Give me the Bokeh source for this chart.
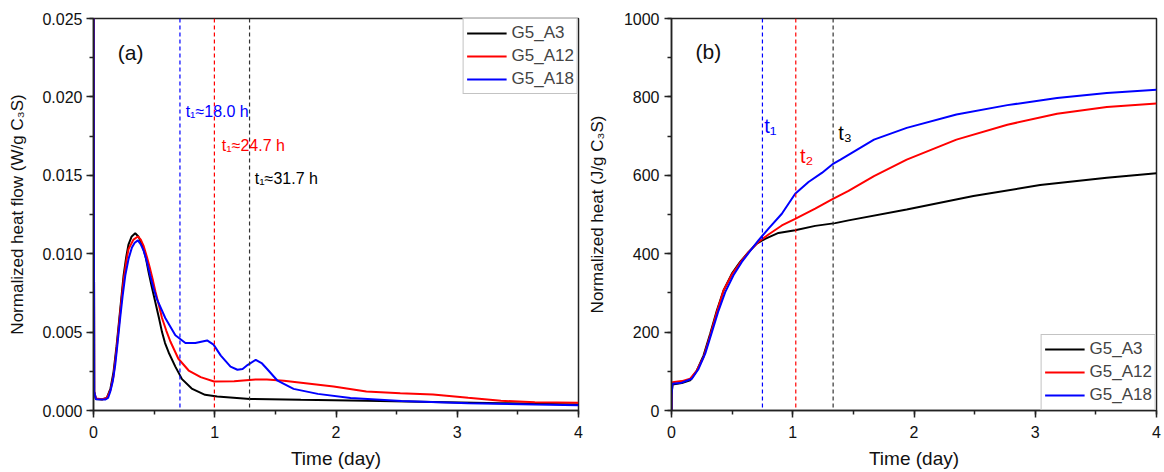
from bokeh.plotting import figure
from bokeh.layouts import row
from bokeh.models import Span, Label, SingleIntervalTicker, NumeralTickFormatter, Range1d, Legend, LegendItem
from bokeh.embed import file_html
from bokeh.resources import INLINE

FONT = "Liberation Sans"
series_names = ["G5_A3", "G5_A12", "G5_A18"]
series_colors = ["#000000", "#ff0000", "#0000ff"]

# ---------------- (a) heat flow, W/g C3S ----------------
a3_t = [0.0, 0.006, 0.02, 0.07, 0.11, 0.14, 0.165, 0.19, 0.207, 0.23, 0.248, 0.27, 0.289, 0.315, 0.344,
        0.37, 0.40, 0.43, 0.455, 0.48, 0.51, 0.54, 0.565, 0.59, 0.62, 0.675, 0.73, 0.81, 0.92, 1.02,
        1.29, 1.71, 2.25, 2.8, 3.36, 4.0]
a3_v = [0.028, 0.0012, 0.00074, 0.0007, 0.0008, 0.0014, 0.00245, 0.0041, 0.0054, 0.0072, 0.0086, 0.0098,
        0.0106, 0.0111, 0.0113, 0.0111, 0.0106, 0.0098, 0.0088, 0.0079, 0.0069, 0.0059, 0.0050, 0.0043,
        0.0037, 0.0028, 0.0020, 0.0014, 0.0010, 0.00089, 0.00074, 0.00068, 0.00062, 0.00055, 0.00047,
        0.00038]

a12_t = [0.0, 0.006, 0.02, 0.07, 0.11, 0.14, 0.165, 0.19, 0.207, 0.23, 0.248, 0.27, 0.289, 0.33, 0.366,
         0.39, 0.413, 0.44, 0.468, 0.49, 0.51, 0.54, 0.565, 0.60, 0.634, 0.70, 0.785, 0.884, 0.994,
         1.16, 1.336, 1.43, 1.57, 1.98, 2.25, 2.53, 2.8, 3.09, 3.36, 3.64, 4.0]
a12_v = [0.028, 0.0012, 0.00076, 0.00072, 0.0008, 0.0013, 0.0022, 0.0039, 0.0052, 0.0070, 0.0083,
         0.0095, 0.0103, 0.0109, 0.0111, 0.0109, 0.0105, 0.0098, 0.0090, 0.0083, 0.0076, 0.0067, 0.0059,
         0.0051, 0.0044, 0.0033, 0.00255, 0.00213, 0.00185, 0.00187, 0.00198, 0.00198, 0.0019, 0.00153,
         0.00121, 0.0011, 0.00102, 0.00081, 0.00062, 0.00053, 0.00049]

a18_t = [0.0, 0.006, 0.02, 0.096, 0.12, 0.138, 0.16, 0.179, 0.20, 0.22, 0.24, 0.262, 0.29, 0.317, 0.34,
         0.366, 0.39, 0.413, 0.44, 0.468, 0.495, 0.523, 0.592, 0.675, 0.758, 0.84, 0.937, 0.99, 1.05,
         1.13, 1.187, 1.23, 1.27, 1.338, 1.39, 1.43, 1.518, 1.65, 1.85, 2.12, 2.54, 3.09, 3.64, 4.0]
a18_v = [0.028, 0.0012, 0.00072, 0.0007, 0.0008, 0.0012, 0.0019, 0.0029, 0.0044, 0.0059, 0.0073, 0.0086,
         0.0097, 0.0104, 0.0107, 0.01085, 0.0106, 0.0102, 0.0095, 0.0086, 0.0078, 0.0071, 0.0059, 0.0048,
         0.0043, 0.0043, 0.00447, 0.0042, 0.0035, 0.0028, 0.0026, 0.00265, 0.0029, 0.00323, 0.0030,
         0.00266, 0.0019, 0.00138, 0.00106, 0.00079, 0.0006, 0.00047, 0.00038, 0.00034]

onset_a = [0.713, 0.997, 1.287]          # dashed lines (day), blue/red/black
onset_a_colors = ["#0000ff", "#ff0000", "#333333"]
notes_a = ["t\u2081\u224818.0 h", "t\u2081\u224824.7 h", "t\u2081\u224831.7 h"]
notes_a_colors = ["#0000ff", "#ff0000", "#000000"]
notes_a_x = [0.76, 1.058, 1.33]
notes_a_y = [0.0191, 0.0169, 0.0148]

# ---------------- (b) cumulative heat, J/g C3S ----------------
b3_t = [0.0, 0.001, 0.008, 0.085, 0.154, 0.209, 0.264, 0.319, 0.374, 0.429, 0.498, 0.566, 0.635, 0.704,
        0.772, 0.882, 1.02, 1.185, 1.35, 1.46, 1.94, 2.49, 3.04, 3.59, 4.0]
b3_v = [0, 40, 66, 70, 77, 102, 140, 196, 255, 306, 349, 379, 404, 426, 438, 453, 460, 471, 478, 485,
        513, 547, 575, 594, 605]

b12_t = [0.0, 0.001, 0.008, 0.085, 0.154, 0.209, 0.264, 0.319, 0.374, 0.429, 0.498, 0.566, 0.635,
         0.717, 0.8, 0.91, 1.02, 1.185, 1.32, 1.46, 1.67, 1.94, 2.35, 2.77, 3.18, 3.59, 4.0]
b12_v = [0, 45, 72, 75, 81, 102, 136, 191, 251, 306, 347, 377, 404, 430, 449, 472, 489, 515, 538, 560,
         598, 640, 691, 729, 757, 774, 783]

b18_t = [0.0, 0.001, 0.008, 0.085, 0.168, 0.223, 0.278, 0.333, 0.388, 0.443, 0.511, 0.58, 0.649, 0.717,
         0.8, 0.91, 1.02, 1.13, 1.24, 1.336, 1.394, 1.67, 1.94, 2.35, 2.77, 3.18, 3.59, 4.0]
b18_v = [0, 40, 68, 71, 81, 106, 145, 200, 255, 302, 345, 379, 407, 434, 464, 502, 553, 583, 606, 630,
         640, 691, 721, 755, 779, 797, 810, 818]

onset_b = [0.75, 1.025, 1.333]
onset_b_colors = ["#0000ff", "#ff0000", "#333333"]
notes_b = ["t\u2081", "t\u2082", "t\u2083"]
notes_b_colors = ["#0000ff", "#ff0000", "#000000"]
notes_b_x = [0.765, 1.06, 1.375]
notes_b_y = [725, 649, 708]

x_range = (0, 4)
ya_range = (0, 0.025)
yb_range = (0, 1000)


def style(p, ytick_interval):
    p.outline_line_color = "#222222"
    p.outline_line_width = 1.5
    p.xgrid.visible = False
    p.ygrid.visible = False
    p.xaxis.ticker = SingleIntervalTicker(interval=1, num_minor_ticks=2)
    p.yaxis.ticker = SingleIntervalTicker(interval=ytick_interval, num_minor_ticks=2)
    for ax in (p.xaxis, p.yaxis):
        ax.axis_line_width = 1.5
        ax.axis_line_color = "#222222"
        ax.major_tick_in = 0
        ax.major_tick_out = 7
        ax.minor_tick_in = 0
        ax.minor_tick_out = 4
        ax.major_tick_line_width = 1.5
        ax.minor_tick_line_width = 1.5
        ax.major_tick_line_color = "#222222"
        ax.minor_tick_line_color = "#222222"
        ax.major_label_text_font = FONT
        ax.major_label_text_font_size = "16px"
        ax.major_label_text_color = "#111111"
        ax.axis_label_text_font = FONT
        ax.axis_label_text_font_style = "normal"
        ax.axis_label_text_color = "#111111"
    p.xaxis.axis_label_text_font_size = "19px"
    p.yaxis.axis_label_text_font_size = "17px"
    p.xaxis.major_label_standoff = 8
    p.xaxis.axis_label_standoff = 7


def add_legend(p, renderers, loc):
    items = [LegendItem(label=n, renderers=[r]) for n, r in zip(series_names, renderers)]
    leg = Legend(items=items, location=loc, margin=0, padding=3, spacing=1,
                 label_text_font=FONT, label_text_font_size="17px",
                 glyph_width=40, glyph_height=22, label_height=22, label_standoff=5,
                 border_line_color="#888888", border_line_width=1,
                 background_fill_alpha=1.0)
    p.add_layout(leg, "center")


H = 472
pa = figure(width=584, height=H, output_backend="svg", toolbar_location=None,
            x_range=Range1d(*x_range), y_range=Range1d(*ya_range),
            min_border_left=93, min_border_right=6, min_border_top=18, min_border_bottom=62,
            x_axis_label="Time (day)", y_axis_label="Normalized heat flow (W/g C\u2083S)")
style(pa, 0.005)
pa.yaxis.formatter = NumeralTickFormatter(format="0.000")
pa.yaxis.major_label_standoff = 4
pa.yaxis.axis_label_standoff = 12

for loc, c in zip(onset_a, onset_a_colors):
    pa.add_layout(Span(location=loc, dimension="height", line_color=c, line_dash="4 3", line_width=1.2))

ra = []
for ts, vs, c in zip([a3_t, a12_t, a18_t], [a3_v, a12_v, a18_v], series_colors):
    ra.append(pa.line(ts, vs, line_color=c, line_width=2))
add_legend(pa, ra, "top_right")

pa.add_layout(Label(x=0.2, y=0.0228, text="(a)", text_font=FONT, text_font_size="21px",
                    text_baseline="middle", text_color="#111111"))
for tx, x, y, c in zip(notes_a, notes_a_x, notes_a_y, notes_a_colors):
    pa.add_layout(Label(x=x, y=y, text=tx, text_font=FONT, text_font_size="16px",
                        text_baseline="middle", text_color=c))

pb = figure(width=580, height=H, output_backend="svg", toolbar_location=None,
            x_range=Range1d(*x_range), y_range=Range1d(*yb_range),
            min_border_left=87, min_border_right=8, min_border_top=18, min_border_bottom=62,
            x_axis_label="Time (day)", y_axis_label="Normalized heat (J/g C\u2083S)")
style(pb, 200)
pb.yaxis.major_label_standoff = 5
pb.yaxis.axis_label_standoff = 14

for loc, c in zip(onset_b, onset_b_colors):
    pb.add_layout(Span(location=loc, dimension="height", line_color=c, line_dash="4 3", line_width=1.2))

rb = []
for ts, vs, c in zip([b3_t, b12_t, b18_t], [b3_v, b12_v, b18_v], series_colors):
    rb.append(pb.line(ts, vs, line_color=c, line_width=2))
add_legend(pb, rb, "bottom_right")

pb.add_layout(Label(x=0.198, y=916, text="(b)", text_font=FONT, text_font_size="21px",
                    text_baseline="middle", text_color="#111111"))
for tx, x, y, c in zip(notes_b, notes_b_x, notes_b_y, notes_b_colors):
    pb.add_layout(Label(x=x, y=y, text=tx, text_font=FONT, text_font_size="20px",
                        text_baseline="middle", text_color=c))

layout = row(pa, pb)
open("out.html", "w").write(file_html(layout, INLINE))
